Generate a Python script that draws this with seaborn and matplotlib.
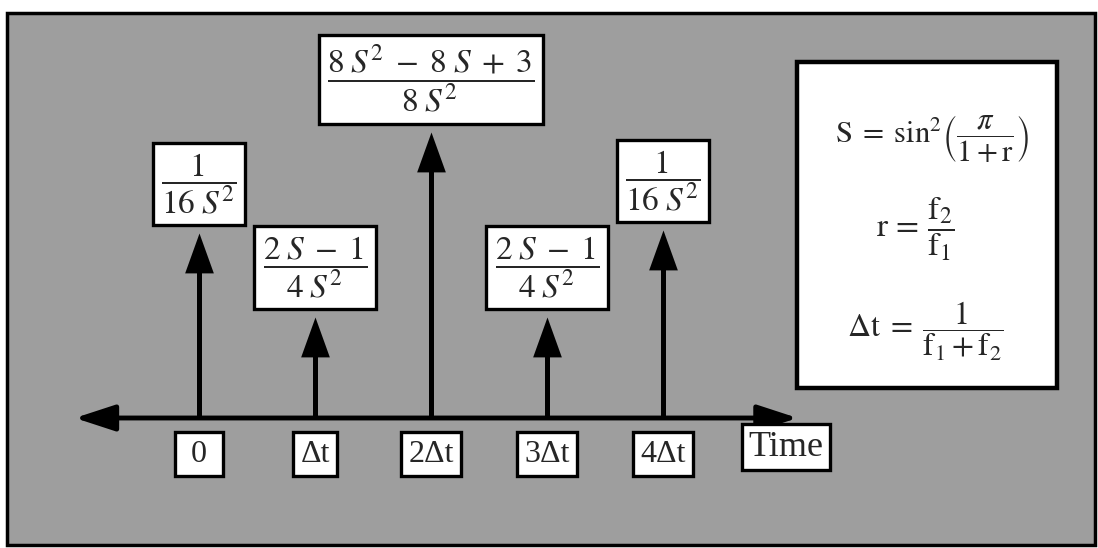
import matplotlib
matplotlib.use('Agg')
import matplotlib.pyplot as plt
from matplotlib.patches import Rectangle
import seaborn as sns

# sample instants (in units of Δt) and impulse weights (drawn heights)
times = [0, 1, 2, 3, 4]
heights = [1.85, 1.01, 2.86, 1.01, 1.88]
tick_labels = [' 0 ', 'Δt', '2Δt', '3Δt', '4Δt']
weight_labels = [
    r'$\dfrac{1}{16\;S^2}$',
    r'$\dfrac{2\;S\;-\;1}{4\;S^2}$',
    r'$\dfrac{8\;S^2\;-\;8\;S\;+\;3}{8\;S^2}$',
    r'$\dfrac{2\;S\;-\;1}{4\;S^2}$',
    r'$\dfrac{1}{16\;S^2}$',
]
axis_label = 'Time'

W, H = 1098, 548

sns.set_theme(style='white')
plt.rcParams['font.family'] = ['Liberation Serif', 'DejaVu Serif']
plt.rcParams['mathtext.fontset'] = 'stix'

fig = plt.figure(figsize=(W / 100, H / 100), dpi=100)
ax = fig.add_axes([0, 0, 1, 1])
ax.axis('off')

# data frame: t=0 at x=199px, 116px per step; y=0 at 418px, 100px per unit
ax.set_xlim(-199 / 116, (W - 199) / 116)
ax.set_ylim((418 - H) / 100, 418 / 100)


def fig_box(x0, y0, x1, y1, **kw):
    return Rectangle((x0 / W, 1 - y1 / H), (x1 - x0) / W, (y1 - y0) / H,
                     transform=fig.transFigure, **kw)


# gray panel and the white formula box
ax.add_patch(fig_box(7, 13, 1095, 545, fc='#9e9e9e', ec='black', lw=2.5, zorder=0))
ax.add_patch(fig_box(797, 62, 1057, 388, fc='white', ec='black', lw=3.2, zorder=1))

# time axis with arrows at both ends
ax.annotate('', xy=(5.16, 0), xytext=(-1.07, 0),
            arrowprops=dict(arrowstyle='<|-|>,head_length=2.45,head_width=0.8',
                            lw=3.5, color='black', shrinkA=0, shrinkB=0,
                            mutation_scale=10), zorder=3)

# impulse stems with arrow heads
ax.vlines(times, 0, [h - 0.2 for h in heights], color='black', lw=3.6, zorder=3)
head = [(0, 0), (-0.36, -1), (0.36, -1), (0, 0)]
sns.scatterplot(x=times, y=heights, marker=head, s=3300, color='black',
                linewidth=0, ax=ax, zorder=4, legend=False)

box = dict(boxstyle='square,pad=0.25', fc='white', ec='black', lw=2.4)
for t, h, lab in zip(times, heights, weight_labels):
    ax.annotate(lab, xy=(t, h), xytext=(0, 12), textcoords='offset points',
                ha='center', va='bottom', fontsize=24, bbox=box, zorder=5)

tbox = dict(boxstyle='square,pad=0.24', fc='white', ec='black', lw=2.4)
for t, lab in zip(times, tick_labels):
    ax.text(t, -0.36, lab, ha='center', va='center', fontsize=23, bbox=tbox, zorder=5)
ax.text(5.06, -0.29, axis_label, ha='center', va='center', fontsize=26,
        bbox=dict(boxstyle='square,pad=0.18', fc='white', ec='black', lw=2.4), zorder=5)

# definitions
ax.text(932 / W, 1 - 138 / H,
        r'$\mathrm{S}\;=\;\mathrm{sin}^2 \left(\dfrac{\pi}{1 + \mathrm{r}}\right)$',
        transform=fig.transFigure, ha='center', va='center', fontsize=22, zorder=5)
ax.text(915 / W, 1 - 229 / H, r'$\mathrm{r}\,=\,\dfrac{\mathrm{f}_2}{\mathrm{f}_1}$',
        transform=fig.transFigure, ha='center', va='center', fontsize=24, zorder=5)
ax.text(925 / W, 1 - 331 / H,
        r'$\Delta\mathrm{t}\;=\;\dfrac{1}{\mathrm{f}_1 + \mathrm{f}_2}$',
        transform=fig.transFigure, ha='center', va='center', fontsize=23, zorder=5)

fig.savefig('out.png', dpi=100, facecolor='white')
